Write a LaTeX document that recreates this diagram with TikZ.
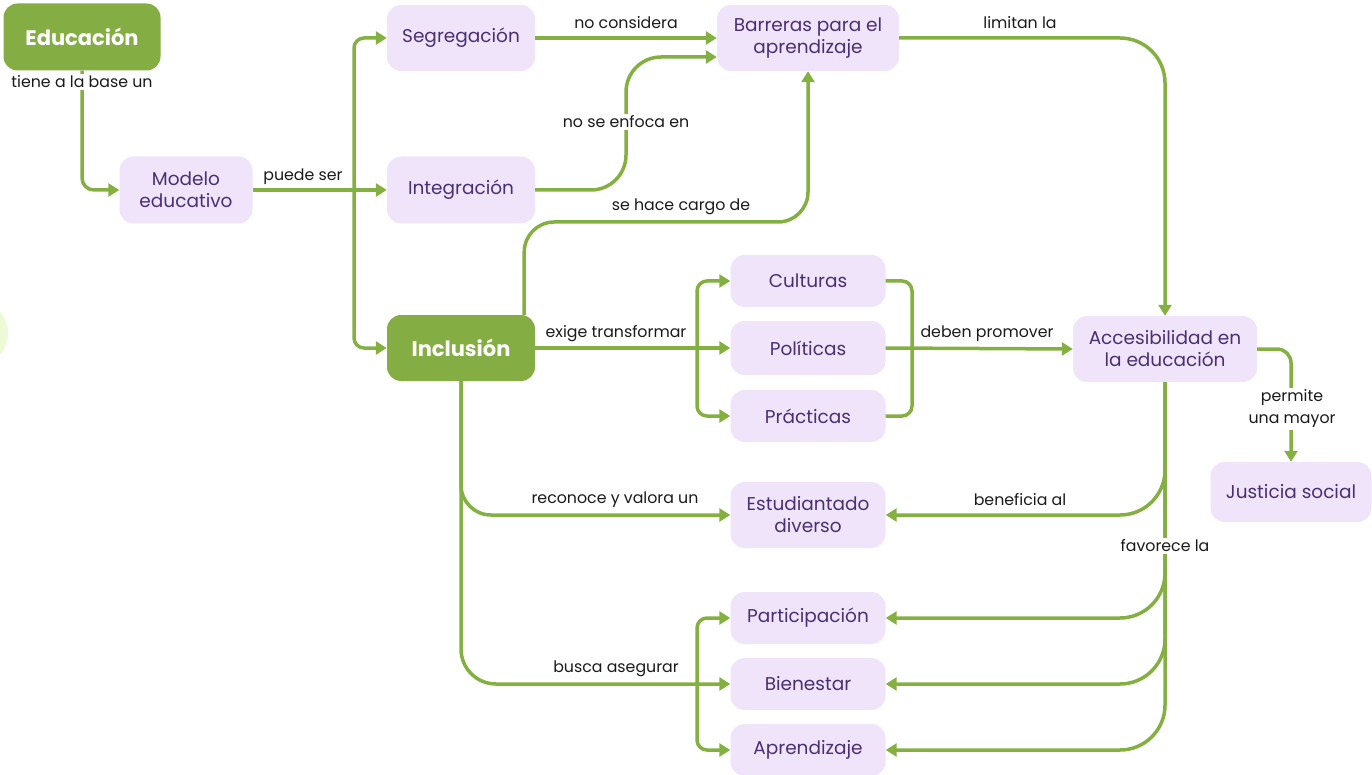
\documentclass[tikz,border=0pt]{standalone}
\usepackage{fontspec}
\setmainfont{Poppins}
\usetikzlibrary{arrows.meta}
\definecolor{linegreen}{HTML}{84B042}
\definecolor{maingreen}{HTML}{84AE43}
\definecolor{boxfill}{HTML}{F0E4FA}
\definecolor{boxtext}{HTML}{4B2F73}
\definecolor{labeltext}{HTML}{1A1A1A}
\definecolor{halo}{HTML}{ECFAD6}
\tikzset{
 box/.style={rectangle, rounded corners=14pt, fill=boxfill, text=boxtext, align=center, inner sep=0pt, font=\fontsize{18.5}{22}\selectfont},
 mainbox/.style={box, fill=maingreen, text=white, font=\fontsize{21}{24}\selectfont\bfseries},
 wire/.style={draw=linegreen, line width=3.5pt},
 conn/.style={wire, -{Triangle[length=11pt,width=13pt]}},
 lbl/.style={font=\fontsize{15.8}{20}\selectfont, text=labeltext, inner sep=2pt, align=center},
 lblw/.style={lbl, fill=white}
}
\begin{document}
\begin{tikzpicture}[x=1pt,y=-1pt]
\useasboundingbox (0,0) rectangle (1372,775);
\begin{scope}
\clip (0,0) rectangle (1372,775);
\fill[halo] (-25,333) circle (33);
\end{scope}
% nodes
\node[mainbox, minimum width=157pt, minimum height=67pt] (edu) at (82,37) {Educación};
\node[box, minimum width=133pt, minimum height=67pt] (mod) at (186,190) {Modelo\\educativo};
\node[box, minimum width=148pt, minimum height=66pt] (seg) at (461,38) {Segregación};
\node[box, minimum width=148pt, minimum height=67pt] (integ) at (461,190) {Integración};
\node[mainbox, minimum width=148pt, minimum height=66pt] (incl) at (461,348) {Inclusión};
\node[box, minimum width=182pt, minimum height=66pt] (barr) at (808,38) {Barreras para el\\aprendizaje};
\node[box, minimum width=155pt, minimum height=52pt] (cult) at (808,281) {Culturas};
\node[box, minimum width=155pt, minimum height=54pt] (pol) at (808,348) {Políticas};
\node[box, minimum width=155pt, minimum height=52pt] (prac) at (808,416) {Prácticas};
\node[box, minimum width=184pt, minimum height=66pt] (acc) at (1165,349) {Accesibilidad en\\la educación};
\node[box, minimum width=161pt, minimum height=60pt] (just) at (1291,492) {Justicia social};
\node[box, minimum width=155pt, minimum height=66pt] (est) at (808,515) {Estudiantado\\diverso};
\node[box, minimum width=155pt, minimum height=52pt] (part) at (808,618) {Participación};
\node[box, minimum width=155pt, minimum height=52pt] (bien) at (808,684) {Bienestar};
\node[box, minimum width=155pt, minimum height=52pt] (apre) at (808,750) {Aprendizaje};
% junction coordinates
\coordinate (b1) at (354,190);
\coordinate (c4) at (626,57);
\coordinate (c5) at (808,222);
\coordinate (b6) at (697,348);
\coordinate (b7) at (912,348);
\coordinate (b12) at (697,684);
% connectors
\draw[conn, rounded corners=12pt] (edu.south) |- (mod.west);
\draw[conn] (mod.east) -- (integ.west);
\draw[conn, rounded corners=10pt] (b1) |- (seg.west);
\draw[conn, rounded corners=10pt] (b1) |- (incl.west);
\draw[conn] (seg.east) -- (barr.west);
\draw[conn, rounded corners=35pt] (integ.east) -| (c4) -- ([yshift=-19pt]barr.west);
\draw[conn, rounded corners=30pt] ([xshift=-11pt]incl.north east) |- (c5) -- (barr.south);
\draw[conn] (incl.east) -- (pol.west);
\draw[conn, rounded corners=10pt] (b6) |- (cult.west);
\draw[conn, rounded corners=10pt] (b6) |- (prac.west);
\draw[wire, rounded corners=10pt] (cult.east) -| (b7);
\draw[wire, rounded corners=10pt] (prac.east) -| (b7);
\draw[conn] (pol.east) -- (acc.west);
\draw[conn, rounded corners=45pt] (barr.east) -| (acc.north);
\draw[conn, rounded corners=14pt] (acc.east) -| (just.north);
\draw[conn, rounded corners=45pt] (acc.south) |- (est.east);
\draw[conn, rounded corners=45pt] (acc.south) |- (part.east);
\draw[conn, rounded corners=45pt] (acc.south) |- (bien.east);
\draw[conn, rounded corners=45pt] (acc.south) |- (apre.east);
\draw[conn, rounded corners=30pt] (incl.south) |- (est.west);
\draw[conn, rounded corners=35pt] (incl.south) |- (bien.west);
\draw[conn, rounded corners=10pt] (b12) |- (part.west);
\draw[conn, rounded corners=10pt] (b12) |- (apre.west);
% labels
\node[lblw] (l1) at (82,82) {tiene a la base un};
\node[lbl] (l2) at (303,177) {puede ser};
\node[lbl] (l3) at (626,23) {no considera};
\node[lblw] (l4) at (626,122) {no se enfoca en};
\node[lbl] (l5) at (681,207) {se hace cargo de};
\node[lbl] (l6) at (616,334) {exige transformar};
\node[lbl] (l7) at (987,334) {deben promover};
\node[lbl] (l8) at (1020,23) {limitan la};
\node[lblw, font=\fontsize{15.8}{22}\selectfont] (l9) at (1292,409) {permite\\una mayor};
\node[lbl] (l10) at (1020,500) {beneficia al};
\node[lblw] (l11) at (1165,546) {favorece la};
\node[lbl] (l12) at (615,500) {reconoce y valora un};
\node[lbl] (l13) at (616,669) {busca asegurar};
\end{tikzpicture}
\end{document}
